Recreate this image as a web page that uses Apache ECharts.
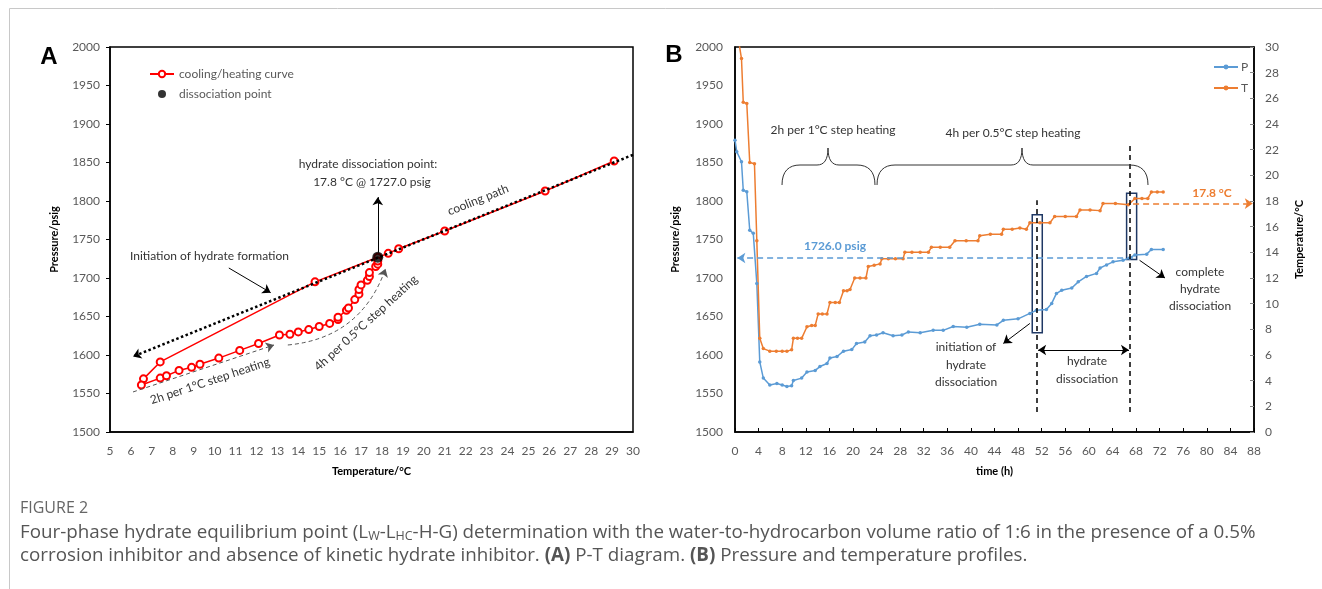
<!DOCTYPE html>
<html>
<head>
<meta charset="utf-8">
<script src="https://cdn.jsdelivr.net/npm/echarts@6/dist/echarts.min.js"></script>
<style>
  html, body { margin: 0; padding: 0; background: #fff; }
  #chart { width: 1322px; height: 589px; }
</style>
</head>
<body>
<div id="chart"></div>
<script>
// ---- panel A: P-T diagram ----
const coolTemp = [29.1, 25.8, 21.0, 18.8, 18.3, 17.8, 14.8, 7.4, 6.6, 6.5];
const coolPres = [1852, 1813, 1761, 1738, 1732, 1727, 1695, 1591, 1569, 1561];
const heatTemp = [7.4, 7.7, 8.3, 8.9, 9.3, 10.2, 11.2, 12.1, 13.1, 13.6, 14.0, 14.5, 15.0, 15.5, 15.9, 15.9,
                  16.3, 16.4, 16.7, 16.9, 16.9, 17.0, 17.3, 17.4, 17.4, 17.7, 17.8, 17.8];
const heatPres = [1570, 1573, 1580, 1584, 1588, 1596, 1606, 1615, 1626, 1627, 1630, 1633, 1637, 1641, 1646, 1649,
                  1658, 1661, 1672, 1679, 1685, 1691, 1697, 1702, 1707, 1715, 1718, 1722];
const dissTemp = [17.8];
const dissPres = [1727];

// ---- panel B: pressure and temperature profiles ----
const pTime = [0, 0.3, 1.1, 1.4, 2.0, 2.5, 3.1, 3.7, 4.2, 4.8, 5.9, 7.1, 8.0, 8.8, 9.6, 9.9, 11.3, 12.2, 13.6, 14.4,
               15.6, 16.1, 17.3, 18.4, 19.8, 20.6, 22.0, 22.9, 24.0, 25.1, 26.8, 28.3, 29.4, 31.4, 33.6, 35.3, 37.0,
               39.3, 41.5, 44.4, 45.5, 48.0, 50.0, 51.1, 52.8, 53.7, 54.5, 55.4, 57.1, 58.2, 59.6, 61.3, 61.9, 63.0,
               64.1, 65.8, 66.9, 67.8, 69.8, 70.6, 72.6];
const pVal = [1879, 1864, 1851, 1814, 1812, 1762, 1758, 1693, 1591, 1570, 1561, 1563, 1561, 1559, 1560, 1567, 1570,
              1578, 1580, 1585, 1589, 1596, 1598, 1605, 1607, 1615, 1617, 1625, 1626, 1629, 1625, 1626, 1630, 1629,
              1632, 1632, 1637, 1636, 1640, 1639, 1645, 1647, 1654, 1658, 1659, 1667, 1680, 1684, 1687, 1695, 1702,
              1706, 1713, 1717, 1721, 1723, 1726, 1730, 1731, 1737, 1737];
const tTime = [0.5, 1.1, 1.4, 2.0, 2.5, 3.3, 3.7, 4.2, 4.8, 5.9, 7.0, 8.0, 8.8, 9.6, 9.9, 10.6, 11.3, 12.2, 13.0, 13.6,
               14.1, 14.8, 15.6, 16.1, 17.0, 17.7, 18.4, 19.0, 19.5, 20.3, 21.2, 22.2, 22.6, 23.6, 24.6, 24.9, 26.0,
               27.2, 28.5, 28.8, 30.0, 31.4, 32.8, 33.3, 34.8, 36.4, 37.3, 39.2, 41.2, 41.5, 43.3, 45.2, 45.5, 47.0,
               48.3, 49.4, 50.0, 51.7, 53.4, 54.2, 56.0, 57.9, 58.5, 60.2, 61.9, 62.4, 64.5, 66.7, 67.8, 69.0, 70.0,
               70.6, 71.6, 72.6];
const tVal = [30.8, 29.1, 25.7, 25.6, 21.0, 20.9, 14.9, 7.3, 6.5, 6.3, 6.3, 6.3, 6.3, 6.4, 7.3, 7.3, 7.3, 8.2, 8.3, 8.3,
              9.2, 9.2, 9.2, 10.1, 10.1, 10.1, 11.0, 11.0, 11.1, 12.0, 12.0, 12.0, 12.9, 13.0, 13.1, 13.5, 13.5,
              13.5, 13.5, 14.0, 14.0, 14.0, 14.0, 14.4, 14.4, 14.4, 14.9, 14.9, 14.9, 15.3, 15.4, 15.4, 15.8, 15.8,
              15.9, 15.8, 16.3, 16.3, 16.3, 16.8, 16.8, 16.8, 17.3, 17.3, 17.25, 17.8, 17.8, 17.7, 18.2, 18.2, 18.2,
              18.7, 18.7, 18.7];

const tempTicks = { min: 5, max: 30, interval: 1 };
const presTicks = { min: 1500, max: 2000, interval: 50 };
const timeTicks = { min: 0, max: 88, interval: 4 };
const rightTicks = { min: 0, max: 30, interval: 2 };

const curve = coolTemp.map((t, i) => [t, coolPres[i]])
  .concat(heatTemp.map((t, i) => [t, heatPres[i]]));
const diss = dissTemp.map((t, i) => [t, dissPres[i]]);
const pData = pTime.map((t, i) => [t, pVal[i]]);
const tData = tTime.map((t, i) => [t, tVal[i]]);

const FONT = 'Lato';
const GREY = '#595959';
const RED = '#ff0000';
const BLUE = '#5b9bd5';
const ORANGE = '#ed7d31';

function axisLabel() {
  return { color: GREY, fontSize: 12, fontFamily: FONT, interval: 0, hideOverlap: false,
           formatter: v => String(v) };
}
function axisName() {
  return { color: '#000', fontSize: 11, fontWeight: 'bold', fontFamily: FONT };
}
const axisLine = { show: true, lineStyle: { color: '#000', width: 1.5 } };

function seg(a, b, style, arrowEnd, arrowStart) {
  return [
    { coord: a, lineStyle: style, symbol: arrowStart ? 'arrow' : 'none', symbolSize: 8 },
    { coord: b, symbol: arrowEnd ? 'arrow' : 'none', symbolSize: 8 }
  ];
}
const thin = { color: '#000', width: 1, type: 'solid' };
const greyDash = { color: '#555', width: 1, type: [4, 3] };
const blackDash = { color: '#000', width: 1.5, type: [5, 4] };

function txt(text, x, y, opt) {
  opt = opt || {};
  return {
    type: 'text', x: x, y: y, rotation: opt.rot || 0, z: 100,
    style: {
      text: text, fill: opt.color || '#333', align: opt.align || 'center', verticalAlign: 'middle',
      font: (opt.bold ? 'bold ' : '') + (opt.size || 12) + 'px ' + (opt.family || FONT),
      rich: opt.rich
    }
  };
}

// curly brace drawn from curve pieces
function brace(x1, xm, x2, yTop, yMid, yBot) {
  const st = { fill: 'none', stroke: '#333', lineWidth: 1 };
  const bz = (a, b, c1, c2) => ({ type: 'bezierCurve', z: 50, style: st,
    shape: { x1: a[0], y1: a[1], x2: b[0], y2: b[1], cpx1: c1[0], cpy1: c1[1], cpx2: c2[0], cpy2: c2[1] } });
  const ln = (a, b) => ({ type: 'line', z: 50, style: st, shape: { x1: a[0], y1: a[1], x2: b[0], y2: b[1] } });
  return [
    bz([x1, yBot], [x1 + 18, yMid], [x1, yMid + 6], [x1 + 7, yMid]),
    ln([x1 + 18, yMid], [xm - 11, yMid]),
    bz([xm - 11, yMid], [xm, yTop], [xm - 4, yMid], [xm, yMid - 5]),
    bz([xm, yTop], [xm + 11, yMid], [xm, yMid - 5], [xm + 4, yMid]),
    ln([xm + 11, yMid], [x2 - 18, yMid]),
    bz([x2 - 18, yMid], [x2, yBot], [x2 - 7, yMid], [x2, yMid + 6])
  ];
}

const chart = echarts.init(document.getElementById('chart'));

const option = {
  animation: false,
  backgroundColor: '#fff',
  grid: [
    { left: 110, top: 47, width: 523, height: 385, containLabel: false, outerBoundsMode: 'none',
      show: true, borderColor: '#000', borderWidth: 1.5, backgroundColor: 'transparent' },
    { left: 735, top: 47, width: 519, height: 385, containLabel: false, outerBoundsMode: 'none',
      show: true, borderColor: '#000', borderWidth: 1.5, backgroundColor: 'transparent' }
  ],
  legend: [
    {
      data: ['cooling/heating curve', 'dissociation point'],
      orient: 'vertical', left: 144, top: 63, itemWidth: 24, itemHeight: 8, itemGap: 8,
      textStyle: { color: GREY, fontSize: 12, fontFamily: FONT }
    },
    {
      data: ['P', 'T'],
      orient: 'vertical', left: 1208, top: 56, itemWidth: 24, itemHeight: 6, itemGap: 9,
      textStyle: { color: GREY, fontSize: 12, fontFamily: FONT, padding: [0, 0, 0, -2] }
    }
  ],
  xAxis: [
    {
      type: 'value', gridIndex: 0, min: tempTicks.min, max: tempTicks.max, interval: tempTicks.interval,
      name: 'Temperature/°C', nameLocation: 'middle', nameGap: 34, nameTextStyle: axisName(),
      axisLine: axisLine, axisTick: { show: false }, splitLine: { show: false },
      axisLabel: Object.assign(axisLabel(), { margin: 13 })
    },
    {
      type: 'value', gridIndex: 1, min: timeTicks.min, max: timeTicks.max, interval: timeTicks.interval,
      name: 'time (h)', nameLocation: 'middle', nameGap: 34, nameTextStyle: axisName(),
      axisLine: axisLine, axisTick: { show: true, inside: true, length: 4, lineStyle: { color: '#000' } },
      splitLine: { show: false },
      axisLabel: Object.assign(axisLabel(), { margin: 13 })
    }
  ],
  yAxis: [
    {
      type: 'value', gridIndex: 0, min: presTicks.min, max: presTicks.max, interval: presTicks.interval,
      name: 'Pressure/psig', nameLocation: 'middle', nameGap: 50, nameRotate: 90, nameTextStyle: axisName(),
      axisLine: axisLine, axisTick: { show: true, length: 4, lineStyle: { color: '#000' } },
      splitLine: { show: false },
      axisLabel: Object.assign(axisLabel(), { margin: 10 })
    },
    {
      type: 'value', gridIndex: 1, min: presTicks.min, max: presTicks.max, interval: presTicks.interval,
      name: 'Pressure/psig', nameLocation: 'middle', nameGap: 54, nameRotate: 90, nameTextStyle: axisName(),
      axisLine: axisLine, axisTick: { show: false }, splitLine: { show: false },
      axisLabel: Object.assign(axisLabel(), { margin: 12 })
    },
    {
      type: 'value', gridIndex: 1, position: 'right', min: rightTicks.min, max: rightTicks.max,
      interval: rightTicks.interval,
      name: 'Temperature/°C', nameLocation: 'middle', nameGap: 40, nameRotate: 90, nameTextStyle: axisName(),
      axisLine: axisLine, axisTick: { show: true, inside: true, length: 4, lineStyle: { color: '#888' } },
      splitLine: { show: false },
      axisLabel: Object.assign(axisLabel(), { margin: 11 })
    }
  ],
  series: [
    {
      name: 'cooling/heating curve', type: 'line', xAxisIndex: 0, yAxisIndex: 0, data: curve,
      symbol: 'emptyCircle', symbolSize: 7, showAllSymbol: true, z: 3,
      lineStyle: { color: RED, width: 1.5 },
      itemStyle: { color: RED, borderColor: RED, borderWidth: 1.5 },
      markLine: {
        silent: true, symbol: 'none', label: { show: false }, animation: false,
        data: [
          seg([30, 1860], [6.1, 1598], { color: '#000', width: 2.5, type: 'dotted' }, true),
          seg([6.1, 1552], [12.84, 1613], greyDash, true),
          seg([17.8, 1733], [17.8, 1805], thin, true),
          seg([10.68, 1713], [12.68, 1681], thin, true)
        ]
      }
    },
    {
      // curved guide arrow for the 0.5 °C heating stage
      name: 'heating arc', type: 'lines', coordinateSystem: 'cartesian2d', xAxisIndex: 0, yAxisIndex: 0,
      silent: true, z: 2, symbol: ['none', 'arrow'], symbolSize: 8,
      lineStyle: { color: '#555', width: 1, type: [4, 3], curveness: -0.32, opacity: 1 },
      data: [{ coords: [[13.5, 1613], [18.17, 1712]] }]
    },
    {
      name: 'dissociation point', type: 'scatter', xAxisIndex: 0, yAxisIndex: 0, data: diss,
      symbol: 'circle', symbolSize: 11, z: 6, itemStyle: { color: '#000' }
    },
    {
      name: 'P', type: 'line', xAxisIndex: 1, yAxisIndex: 1, data: pData,
      symbol: 'circle', symbolSize: 3.5, showAllSymbol: true, z: 3,
      lineStyle: { color: BLUE, width: 1.5 }, itemStyle: { color: BLUE },
      markLine: {
        silent: true, symbol: 'none', label: { show: false }, animation: false,
        data: [
          seg([67.5, 1726], [0.4, 1726], { color: BLUE, width: 1.5, type: [6, 4] }, true),
          seg([51.2, 1526], [51.2, 1801], blackDash),
          seg([67.0, 1526], [67.0, 1873], blackDash),
          seg([51.4, 1606.5], [66.8, 1606.5], thin, true, true),
          seg([50.0, 1641], [45.5, 1615], thin, true),
          seg([68.6, 1723], [72.9, 1700], thin, true)
        ]
      },
      markArea: {
        silent: true, label: { show: false },
        itemStyle: { color: 'transparent', borderColor: '#1f3864', borderWidth: 1.5 },
        data: [
          [{ coord: [50.4, 1782] }, { coord: [52.1, 1629] }],
          [{ coord: [66.4, 1810] }, { coord: [68.1, 1724] }]
        ]
      }
    },
    {
      name: 'T', type: 'line', xAxisIndex: 1, yAxisIndex: 2, data: tData,
      symbol: 'circle', symbolSize: 3.5, showAllSymbol: true, z: 3,
      lineStyle: { color: ORANGE, width: 1.5 }, itemStyle: { color: ORANGE },
      markLine: {
        silent: true, symbol: 'none', label: { show: false }, animation: false,
        data: [
          seg([67.5, 17.8], [87.8, 17.8], { color: ORANGE, width: 1.5, type: [6, 4] }, true)
        ]
      }
    }
  ],
  graphic: [
    // figure frame
    { type: 'line', shape: { x1: 9.5, y1: 8.5, x2: 1322, y2: 8.5 }, style: { stroke: '#c8c8c8', lineWidth: 1 } },
    { type: 'line', shape: { x1: 9.5, y1: 8.5, x2: 9.5, y2: 589 }, style: { stroke: '#c8c8c8', lineWidth: 1 } },
    // panel letters
    txt('A', 49, 57, { bold: true, size: 24, color: '#000', family: 'Liberation Sans' }),
    txt('B', 674, 55, { bold: true, size: 24, color: '#000', family: 'Liberation Sans' }),
    // panel A notes
    txt('Initiation of hydrate formation', 130, 256, { align: 'left' }),
    txt('hydrate dissociation point:', 368, 164),
    txt('17.8 °C @ 1727.0 psig', 372, 182),
    txt('cooling path', 478, 200, { rot: 0.38 }),
    txt('2h per 1°C step heating', 210, 381, { rot: 0.32 }),
    txt('4h per 0.5°C step heating', 366, 323, { rot: 0.74 }),
    // panel B notes
    txt('2h per 1°C step heating', 833, 130),
    txt('4h per 0.5°C step heating', 1013, 133),
    txt('1726.0 psig', 835, 246, { bold: true, color: BLUE }),
    txt('17.8 °C', 1212, 193, { bold: true, color: ORANGE }),
    txt('initiation of', 966, 347),
    txt('hydrate', 966, 365),
    txt('dissociation', 966, 382),
    txt('hydrate', 1087, 361),
    txt('dissociation', 1087, 379),
    txt('complete', 1200, 272),
    txt('hydrate', 1200, 289),
    txt('dissociation', 1200, 306),
    // caption
    txt('FIGURE 2', 20, 508, { align: 'left', size: 16, color: '#666', family: 'Open Sans' }),
    txt('Four-phase hydrate equilibrium point (L{s|W}-L{s|HC}-H-G) determination with the water-to-hydrocarbon volume ratio of 1:6 in the presence of a 0.5%',
        20, 533, { align: 'left', size: 18.8, color: '#555', family: 'Open Sans',
                   rich: { s: { fontSize: 12.5, fontFamily: 'Open Sans', fill: '#555', verticalAlign: 'bottom', lineHeight: 14 } } }),
    txt('corrosion inhibitor and absence of kinetic hydrate inhibitor. {b|(A)} P-T diagram. {b|(B)} Pressure and temperature profiles.',
        20, 556, { align: 'left', size: 18.8, color: '#555', family: 'Open Sans',
                   rich: { b: { fontSize: 18.8, fontFamily: 'Open Sans', fontWeight: 'bold', fill: '#555' } } })
  ]
    .concat(brace(782, 828, 875, 148, 165, 185))
    .concat(brace(877, 1022, 1148, 148, 165, 185))
};

chart.setOption(option);
</script>
</body>
</html>
